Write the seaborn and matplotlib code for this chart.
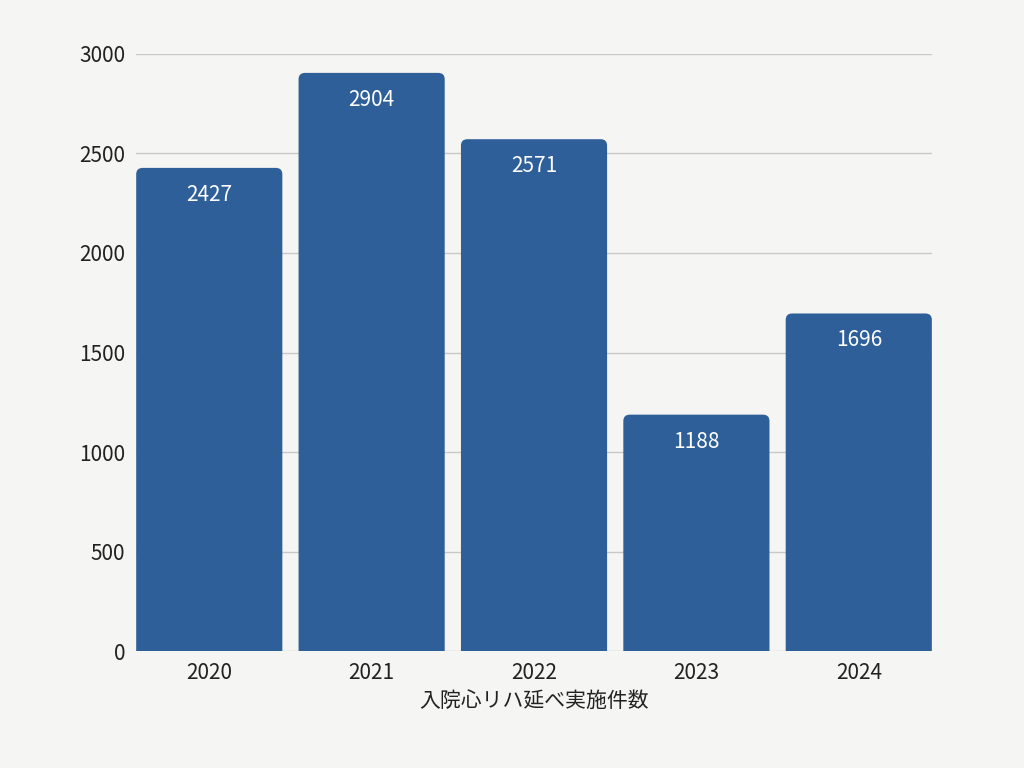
import matplotlib
matplotlib.use("Agg")
import matplotlib.pyplot as plt
import seaborn as sns
import pandas as pd
from matplotlib.patches import FancyBboxPatch

years = ["2020", "2021", "2022", "2023", "2024"]
values = [2427, 2904, 2571, 1188, 1696]
xlabel = "入院心リハ延べ実施件数"

sns.set_theme(style="white")
plt.rcParams['font.family'] = ['Noto Sans CJK JP', 'DejaVu Sans']
bg = "#f5f5f3"
color = "#2e5f99"

fig = plt.figure(figsize=(10.24, 7.68), dpi=100, facecolor=bg)
ax = fig.add_axes([0.133, 0.152, 0.777, 0.778], facecolor=bg)
df = pd.DataFrame({"year": years, "value": values})
sns.barplot(data=df, x="year", y="value", color=color, width=0.9, saturation=1, ax=ax)

ax.set_ylim(0, 3000)
r = 0.04
aspect = 3000 / 0.778 / 7.68 * 0.777 * 10.24 / 5
for p in list(ax.patches):
    x, w, h = p.get_x(), p.get_width(), p.get_height()
    p.remove()
    fb = FancyBboxPatch((x + r, -200), w - 2 * r, h + 200 - r * aspect,
                        boxstyle=f"round,pad={r}", mutation_aspect=aspect,
                        facecolor=color, edgecolor="none", zorder=2)
    ax.add_patch(fb)
for i, v in enumerate(values):
    ax.text(i, v - 80, str(v), ha="center", va="top", color="white", fontsize=15)

ax.set_yticks(range(0, 3001, 500))
ax.grid(axis="y", color="#c8c8c8", linewidth=1)
ax.set_axisbelow(True)
for s in ax.spines.values():
    s.set_visible(False)
ax.tick_params(axis="both", labelsize=15, colors="#222222", length=0, pad=8)
ax.set_xlabel(xlabel, fontsize=15, color="#222222", labelpad=4)
ax.set_ylabel("")
ax.set_xlim(-0.45, 4.45)
fig.savefig("out.png", dpi=100, facecolor=bg)
